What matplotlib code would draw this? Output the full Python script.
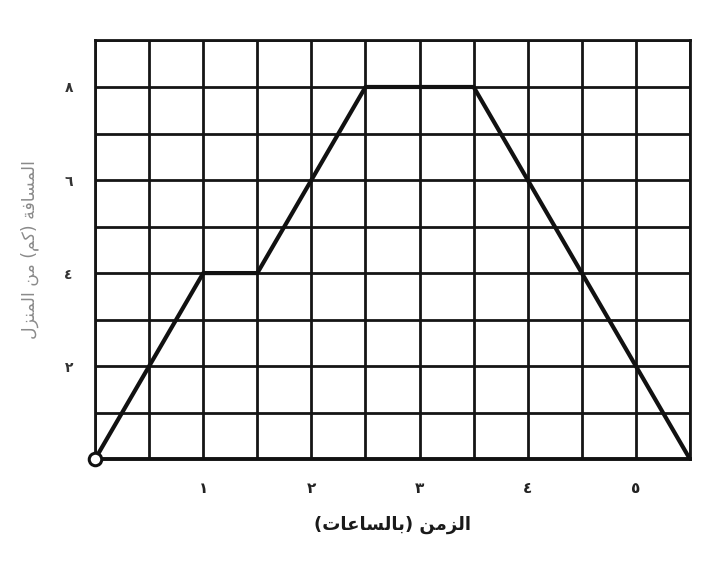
import numpy as np
import matplotlib
matplotlib.use('Agg')
import matplotlib.pyplot as plt

# time (hours) and distance from home (km)
hours = [0, 1, 1.5, 2.5, 3.5, 5.5]
distance_km = [0, 4, 4, 8, 8, 0]

x_ticks = np.arange(0, 5.51, 0.5)
y_ticks = np.arange(0, 9.01, 1)
x_labels = ['', '', '١', '', '٢', '', '٣', '', '٤', '', '٥', '']
y_labels = ['', '', '٢', '', '٤', '', '٦', '', '٨', '']

x_title = 'الزمن (بالساعات)'
y_title = 'المسافة (كم) من المنزل'

# matplotlib has no arabic shaping, so pick the presentation forms by hand
# (isolated, final, initial, medial)
FORMS = {
    'ا': ('\uFE8D', '\uFE8E', None, None),
    'ب': ('\uFE8F', '\uFE90', '\uFE91', '\uFE92'),
    'ة': ('\uFE93', '\uFE94', None, None),
    'ت': ('\uFE95', '\uFE96', '\uFE97', '\uFE98'),
    'ز': ('\uFEAF', '\uFEB0', None, None),
    'س': ('\uFEB1', '\uFEB2', '\uFEB3', '\uFEB4'),
    'ع': ('\uFEC9', '\uFECA', '\uFECB', '\uFECC'),
    'ف': ('\uFED1', '\uFED2', '\uFED3', '\uFED4'),
    'ك': ('\uFED9', '\uFEDA', '\uFEDB', '\uFEDC'),
    'ل': ('\uFEDD', '\uFEDE', '\uFEDF', '\uFEE0'),
    'م': ('\uFEE1', '\uFEE2', '\uFEE3', '\uFEE4'),
    'ن': ('\uFEE5', '\uFEE6', '\uFEE7', '\uFEE8'),
}


def shape(text):
    out = []
    for i, ch in enumerate(text):
        if ch not in FORMS:
            out.append(ch)
            continue
        prev = text[i - 1] if i > 0 else ''
        nxt = text[i + 1] if i + 1 < len(text) else ''
        iso, fin, ini, med = FORMS[ch]
        join_prev = prev in FORMS and FORMS[prev][2] is not None
        join_next = nxt in FORMS and ini is not None
        if join_prev and join_next:
            out.append(med)
        elif join_prev:
            out.append(fin)
        elif join_next:
            out.append(ini)
        else:
            out.append(iso)
    visual = ''.join(out)[::-1]
    return visual.translate(str.maketrans('()', ')('))


plt.rcParams['font.family'] = ['DejaVu Sans']

fig = plt.figure(figsize=(7.15, 5.62), dpi=100)
ax = fig.add_axes([0.133, 0.183, 0.832, 0.745])

ax.plot(hours, distance_km, color='#111111', linewidth=3.0, solid_capstyle='round', zorder=3)
ax.plot([0], [0], marker='o', markersize=9, markerfacecolor='white',
        markeredgecolor='#111111', markeredgewidth=2.2, zorder=4, clip_on=False)

ax.set_xlim(0, 5.5)
ax.set_ylim(0, 9)
ax.set_xticks(x_ticks)
ax.set_xticklabels(x_labels, fontsize=11, fontweight='bold', color='#222222')
ax.set_yticks(y_ticks)
ax.set_yticklabels(y_labels, fontsize=10, fontweight='bold', color='#333333')
ax.tick_params(length=0, pad=16)
ax.tick_params(axis='y', pad=16)
ax.grid(True, color='#151515', linewidth=2.0)
ax.set_axisbelow(True)
for side in ['left', 'top', 'right']:
    ax.spines[side].set_linewidth(2.0)
    ax.spines[side].set_color('#151515')
ax.spines['bottom'].set_linewidth(2.8)
ax.spines['bottom'].set_color('#111111')

ax.set_xlabel(shape(x_title), fontsize=13, fontweight='bold', color='#1a1a1a', labelpad=14)
ax.set_ylabel(shape(y_title), fontsize=12.5, color='#8a8a8a', labelpad=18)

fig.savefig('out.png', dpi=100)
